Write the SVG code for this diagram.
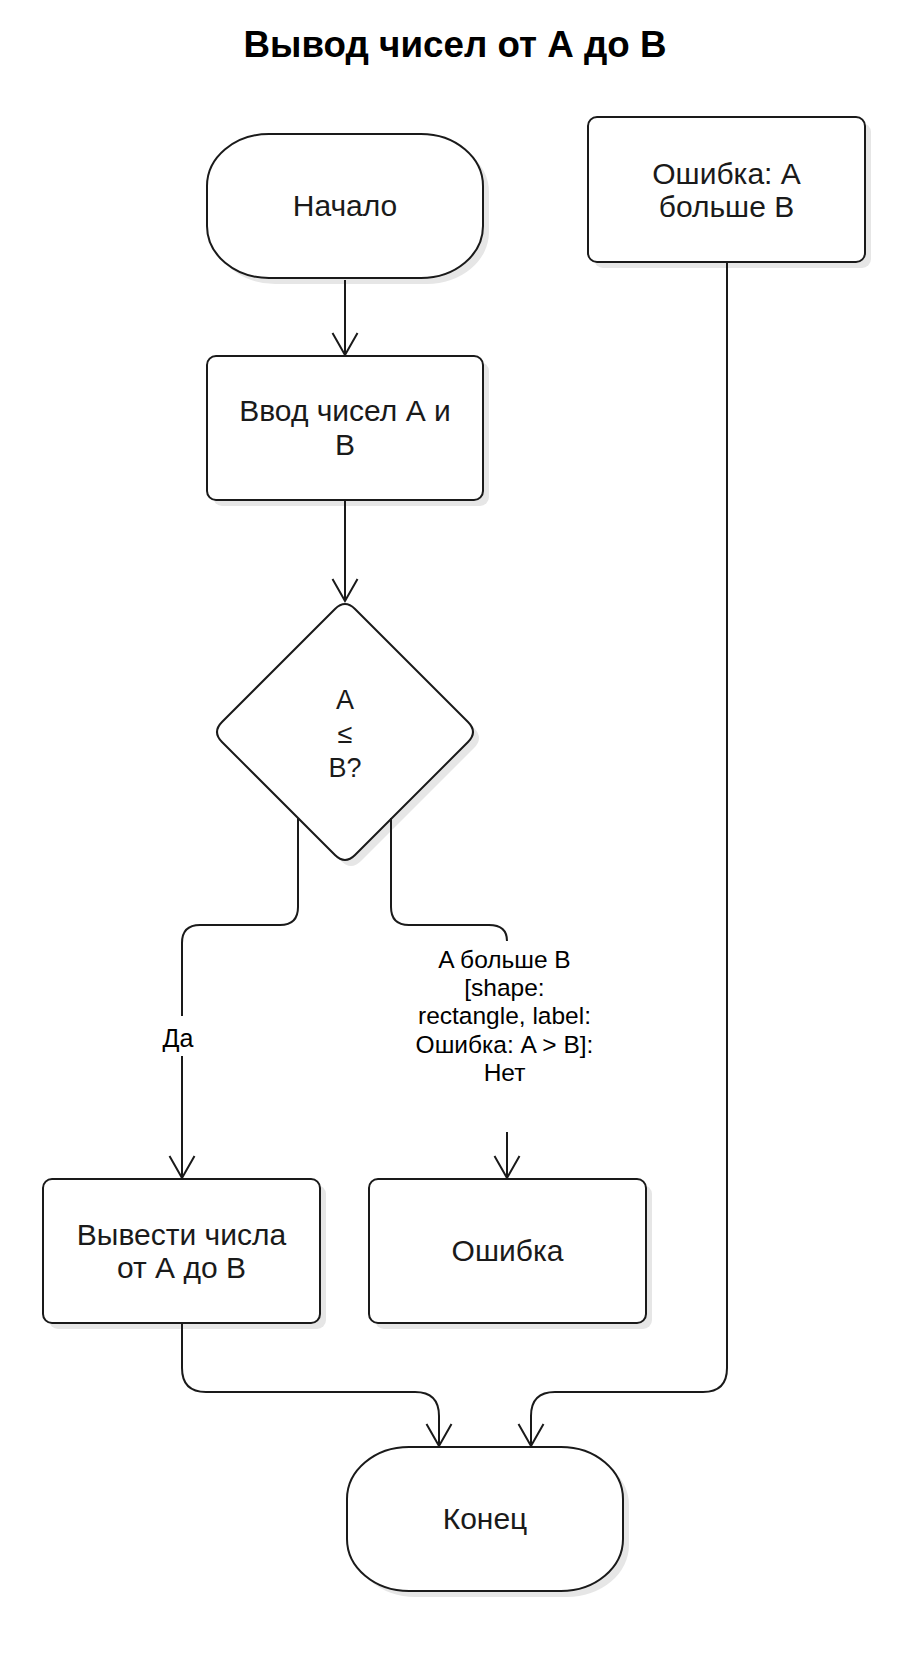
<svg xmlns="http://www.w3.org/2000/svg" width="921" height="1671" viewBox="0 0 921 1671">
<defs>
<style>
.node{fill:#fff;stroke:#1a1a1a;stroke-width:2}
.shadow{fill:#e6e6e6;stroke:none}
.t{font-family:"Liberation Sans",Arial,sans-serif;font-size:30px;fill:#1a1a1a;text-anchor:middle}
.dt{font-family:"Liberation Sans",Arial,sans-serif;font-size:27px;fill:#1a1a1a;text-anchor:middle}
.lbl{font-family:"Liberation Sans",Arial,sans-serif;font-size:24.5px;fill:#000;text-anchor:middle}
.title{font-family:"Liberation Sans",Arial,sans-serif;font-size:37px;font-weight:bold;fill:#000;text-anchor:middle}
.edge{fill:none;stroke:#1a1a1a;stroke-width:2}
</style>
<marker id="arr" markerUnits="userSpaceOnUse" viewBox="-26 -16 30 32" markerWidth="30" markerHeight="32" refX="0" refY="0" orient="auto" overflow="visible">
<path d="M-22,-12.5 L0,0 L-22,12.5" fill="none" stroke="#1a1a1a" stroke-width="2"/>
</marker>
</defs>
<rect width="921" height="1671" fill="#fff"/>
<text id="title" class="title" x="455" y="57" textLength="423" lengthAdjust="spacingAndGlyphs">Вывод чисел от А до В</text>

<g id="start">
<rect class="shadow" x="213" y="140" width="276" height="144" rx="62" ry="52"/>
<rect class="node" x="207" y="134" width="276" height="144" rx="62" ry="52"/>
<text class="t" x="345" y="216">Начало</text>
</g>

<g id="input">
<rect class="shadow" x="213" y="362" width="276" height="144" rx="9"/>
<rect class="node" x="207" y="356" width="276" height="144" rx="9"/>
<text class="t" x="345" y="421">Ввод чисел А и</text>
<text class="t" x="345" y="455">В</text>
</g>

<g id="decision">
<path class="shadow" transform="translate(6,6)" d="M355,609 L468,722 Q478,732 468,742 L355,855 Q345,865 335,855 L222,742 Q212,732 222,722 L335,609 Q345,599 355,609 Z"/>
<path class="node" d="M355,609 L468,722 Q478,732 468,742 L355,855 Q345,865 335,855 L222,742 Q212,732 222,722 L335,609 Q345,599 355,609 Z"/>
<text class="dt" x="345" y="709">A</text>
<text class="dt" x="345" y="743">≤</text>
<text class="dt" x="345" y="777">B?</text>
</g>

<g id="error_top">
<rect class="shadow" x="594" y="123" width="277" height="145" rx="9"/>
<rect class="node" x="588" y="117" width="277" height="145" rx="9"/>
<text class="t" x="726.5" y="183.5">Ошибка: А</text>
<text class="t" x="726.5" y="217">больше В</text>
</g>

<g id="output">
<rect class="shadow" x="49" y="1185" width="277" height="144" rx="9"/>
<rect class="node" x="43" y="1179" width="277" height="144" rx="9"/>
<text class="t" x="181.5" y="1245">Вывести числа</text>
<text class="t" x="181.5" y="1278">от А до В</text>
</g>

<g id="error">
<rect class="shadow" x="375" y="1185" width="277" height="144" rx="9"/>
<rect class="node" x="369" y="1179" width="277" height="144" rx="9"/>
<text class="t" x="507.5" y="1261">Ошибка</text>
</g>

<g id="end">
<rect class="shadow" x="353" y="1453" width="276" height="144" rx="62" ry="52"/>
<rect class="node" x="347" y="1447" width="276" height="144" rx="62" ry="52"/>
<text class="t" x="485" y="1529">Конец</text>
</g>

<g id="connectors">
<path class="edge" marker-end="url(#arr)" d="M345,280 L345,355"/>
<path class="edge" marker-end="url(#arr)" d="M345,501 L345,601"/>
<path class="edge" marker-end="url(#arr)" d="M298,818 L298,907 Q298,925 280,925 L200,925 Q182,925 182,943 L182,1016 M182,1056 L182,1178"/>
<path class="edge" d="M391,818 L391,907 Q391,925 409,925 L489,925 Q507,925 507,941"/>
<path class="edge" marker-end="url(#arr)" d="M507,1132 L507,1178"/>
<path class="edge" marker-end="url(#arr)" d="M182,1324 L182,1368 Q182,1392 206,1392 L415,1392 Q439,1392 439,1416 L439,1446"/>
<path class="edge" marker-end="url(#arr)" d="M727,263 L727,1368 Q727,1392 703,1392 L555,1392 Q531,1392 531,1416 L531,1446"/>
<text class="lbl" x="178" y="1047" style="font-size:25px">Да</text>
<g class="lbl">
<text x="504.5" y="968">A больше B</text>
<text x="504.5" y="996">[shape:</text>
<text x="504.5" y="1024">rectangle, label:</text>
<text x="504.5" y="1052.5">Ошибка: A &gt; B]:</text>
<text x="504.5" y="1080.5">Нет</text>
</g>
</g>
</svg>
